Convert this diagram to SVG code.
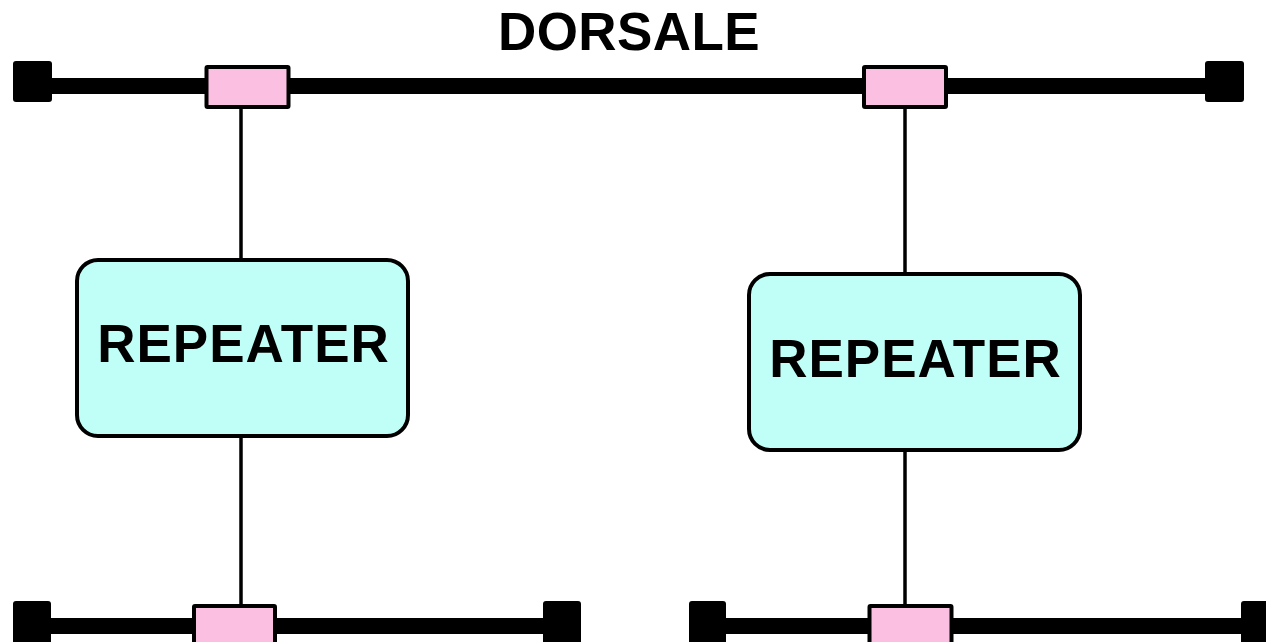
<svg xmlns="http://www.w3.org/2000/svg" width="1266" height="642" viewBox="0 0 1266 642">
  <style>
    .bus { stroke: #000; stroke-width: 16; fill: none; }
    .cap { fill: #000; }
    .tap { fill: #FBBFE2; stroke: #000; stroke-width: 4; }
    .link { stroke: #000; stroke-width: 3.5; fill: none; }
    .rep { fill: #BFFFF8; stroke: #000; stroke-width: 4; }
    .lbl { font-family: "Liberation Sans", Arial, sans-serif; font-weight: bold; font-size: 53px; fill: #000; text-anchor: middle; }
    .rep-lbl { letter-spacing: 1px; }
  </style>
  <rect width="1266" height="642" fill="#fff"/>

  <text id="title" class="lbl" x="629" y="50" style="letter-spacing:0.4px">DORSALE</text>

  <!-- vertical connectors between bus taps and repeaters -->
  <g id="connectors">
    <line class="link" x1="241" y1="107" x2="241" y2="259"/>
    <line class="link" x1="241" y1="436" x2="241" y2="606"/>
    <line class="link" x1="905" y1="107" x2="905" y2="273"/>
    <line class="link" x1="905" y1="450" x2="905" y2="606"/>
  </g>

  <!-- backbone bus -->
  <g id="bus-top">
    <line class="bus" x1="40" y1="86" x2="1220" y2="86"/>
    <rect class="cap" x="13" y="61" width="39" height="41" rx="3"/>
    <rect class="cap" x="1205" y="61" width="39" height="41" rx="3"/>
  </g>
  <g id="tap-top-left"><rect class="tap" x="206.5" y="67" width="82" height="40" rx="1"/></g>
  <g id="tap-top-right"><rect class="tap" x="864" y="67" width="82" height="40" rx="1"/></g>

  <!-- lower left segment -->
  <g id="bus-bottom-left">
    <line class="bus" x1="40" y1="626" x2="560" y2="626"/>
    <rect class="cap" x="13" y="601" width="38" height="45" rx="3"/>
    <rect class="cap" x="543" y="601" width="38" height="45" rx="3"/>
  </g>
  <g id="tap-bottom-left"><rect class="tap" x="194" y="606" width="81" height="40" rx="1"/></g>

  <!-- lower right segment -->
  <g id="bus-bottom-right">
    <line class="bus" x1="710" y1="626" x2="1266" y2="626"/>
    <rect class="cap" x="689" y="601" width="37" height="45" rx="3"/>
    <rect class="cap" x="1241" y="601" width="38" height="45" rx="3"/>
  </g>
  <g id="tap-bottom-right"><rect class="tap" x="869.5" y="606" width="82" height="40" rx="1"/></g>

  <!-- repeaters -->
  <g id="repeater-left">
    <rect class="rep" x="77" y="260" width="331" height="176" rx="21"/>
    <text class="lbl rep-lbl" x="243.5" y="362">REPEATER</text>
  </g>
  <g id="repeater-right">
    <rect class="rep" x="749" y="274" width="331" height="176" rx="21"/>
    <text class="lbl rep-lbl" x="915.5" y="377">REPEATER</text>
  </g>
</svg>
